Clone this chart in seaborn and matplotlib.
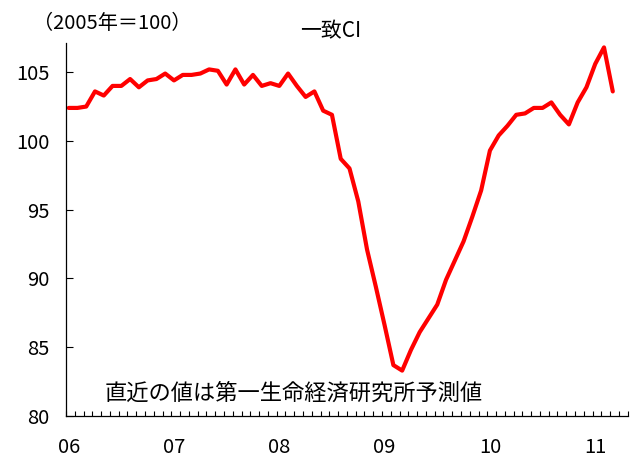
import numpy as np
import pandas as pd
import seaborn as sns
import matplotlib.pyplot as plt

# coincident CI, monthly 2006-01 .. 2011-03 (2005=100)
months = pd.date_range("2006-01", periods=63, freq="MS")
ci = [102.4, 102.4, 102.5, 103.6, 103.3, 104.0, 104.0, 104.5, 103.9, 104.4,
      104.5, 104.9, 104.4, 104.8, 104.8, 104.9, 105.2, 105.1, 104.1, 105.2,
      104.1, 104.8, 104.0, 104.2, 104.0, 104.9, 104.0, 103.2, 103.6, 102.2,
      101.9, 98.7, 98.0, 95.6, 92.1, 89.4, 86.6, 83.7, 83.3, 84.8,
      86.1, 87.1, 88.1, 89.9, 91.3, 92.7, 94.5, 96.4, 99.3, 100.4,
      101.1, 101.9, 102.0, 102.4, 102.4, 102.8, 101.9, 101.2, 102.8, 103.9,
      105.6, 106.8, 103.6]
year_labels = ["06", "07", "08", "09", "10", "11"]
y_ticks = [80, 85, 90, 95, 100, 105]

sns.set_style("ticks")
plt.rcParams['font.family'] = ['Noto Sans CJK JP', 'DejaVu Sans']
plt.rcParams['text.color'] = 'black'
plt.rcParams['xtick.color'] = 'black'
plt.rcParams['ytick.color'] = 'black'

df = pd.DataFrame({"idx": np.arange(len(ci)), "ci": ci})

fig = plt.figure(figsize=(6.35, 4.59), dpi=100)
ax = fig.add_axes([0.104, 0.0937, 0.8845, 0.812])

sns.lineplot(data=df, x="idx", y="ci", color="#ff0000", lw=3, ax=ax)

off = 0.3
ax.set_xlim(-off, 63.6)
ax.set_ylim(80, 107.1)
ax.set_xticks(np.arange(0, 61, 12))
ax.set_xticklabels(year_labels)
ax.set_xticks(np.arange(-off, 64, 1), minor=True)
ax.set_yticks(y_ticks)
ax.set_xlabel("")
ax.set_ylabel("")

ax.tick_params(axis="x", which="major", length=0, labelsize=14.5, pad=15)
ax.tick_params(axis="x", which="minor", direction="in", length=3.6, width=0.8)
ax.tick_params(axis="y", direction="in", length=5, width=0.8, labelsize=14.5, pad=12)

for s in ["top", "right"]:
    ax.spines[s].set_visible(False)
for s in ["left", "bottom"]:
    ax.spines[s].set_color("black")
    ax.spines[s].set_linewidth(0.9)

fig.text(0.052, 0.948, "（2005年＝100）", fontsize=14.5, va="center", ha="left")
fig.text(0.472, 0.932, "一致CI", fontsize=15, va="center", ha="left")
fig.text(0.165, 0.144, "直近の値は第一生命経済研究所予測値", fontsize=16,
         va="center", ha="left")

plt.savefig("out.png", dpi=100)
